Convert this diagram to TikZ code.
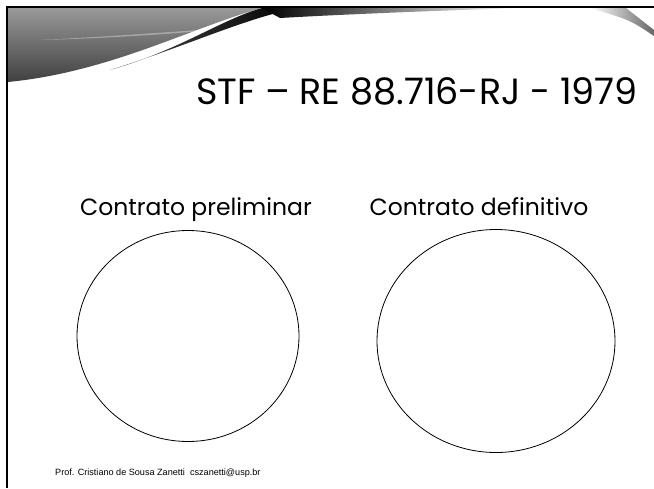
\documentclass[tikz,border=0pt]{standalone}
\usepackage{fontspec}
\setmainfont{Liberation Sans}
\newfontfamily\gothic{Poppins}
\usetikzlibrary{shapes.geometric,positioning}

\begin{document}
\begin{tikzpicture}[x=1pt,y=-1pt,
	frameline/.style={line width=2pt,draw=black},
	setnode/.style={ellipse,draw=black,line width=0.8pt,inner sep=0pt,outer sep=0pt},
	slidetitle/.style={font=\gothic\fontsize{36.5}{42}\selectfont,anchor=base east,inner sep=0pt},
	setlabel/.style={font=\gothic\fontsize{23.5}{28}\selectfont,anchor=base,inner sep=0pt},
	footer/.style={font=\fontsize{9.1}{10}\selectfont,anchor=base west,inner sep=0pt}
	]
	\useasboundingbox (0,0) rectangle (654,488);
	% swoosh at the top
	\shade[top color=black!40,bottom color=black!75] (8,8) -- (262,8)
		.. controls (190,28) and (110,72) .. (8,82) -- cycle;
	\fill[white,opacity=0.35] (40,40) .. controls (120,36) and (200,30) .. (250,26)
		.. controls (200,32) and (120,38) .. (40,40) -- cycle;
	\shade[left color=black!70,right color=black] (110,70) .. controls (180,50) and (220,20) .. (262,8)
		-- (300,8) .. controls (250,16) and (190,45) .. (110,70) -- cycle;
	\shade[left color=black,right color=white] (262,8) -- (520,8)
		.. controls (430,11) and (350,14) .. (280,18) -- cycle;
	\shade[left color=white,right color=black!60] (590,8) -- (626,8) -- (654,30) -- (654,36)
		.. controls (630,20) .. (590,8) -- cycle;
	% frame
	\draw[frameline] (7,488) -- (7,7) -- (654,7);
	% title
	\node[slidetitle] (title) at (638,104) {STF – RE 88.716-RJ - 1979};
	% the two sets
	\node[setnode,minimum width=222pt,minimum height=211pt] (prelim) at (188,336) {};
	\node[setnode,minimum width=238pt,minimum height=223pt] (defin) at (496,341) {};
	\node[setlabel] (prelimlabel) at (196,215) {Contrato preliminar};
	\node[setlabel] (deflabel) at (479,215) {Contrato definitivo};
	% footer
	\node[footer] (author) at (55,475) {Prof. Cristiano de Sousa Zanetti\ \ cszanetti@usp.br};
\end{tikzpicture}
\end{document}
